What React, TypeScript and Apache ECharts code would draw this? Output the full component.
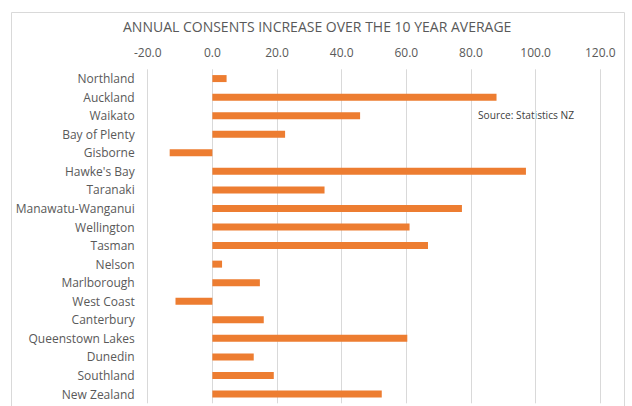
import React, { useEffect, useRef } from "react";
import * as echarts from "echarts";

const categories = [
  "Northland", "Auckland", "Waikato", "Bay of Plenty", "Gisborne", "Hawke's Bay",
  "Taranaki", "Manawatu-Wanganui", "Wellington", "Tasman", "Nelson", "Marlborough",
  "West Coast", "Canterbury", "Queenstown Lakes", "Dunedin", "Southland", "New Zealand",
];
const increaseValues = [
  4.4, 87.9, 45.7, 22.5, -13.2, 97.0,
  34.7, 77.2, 61.0, 66.7, 3.0, 14.7,
  -11.4, 15.9, 60.3, 12.8, 19.0, 52.4,
];
const axisMin = -20;
const axisMax = 120;
const axisStep = 20;
const titleText = "ANNUAL CONSENTS INCREASE OVER THE 10 YEAR AVERAGE";
const sourceText = "Source: Statistics NZ";

const FONT = "'Open Sans', sans-serif";

export default function App() {
  const ref = useRef<HTMLDivElement>(null);
  useEffect(() => {
    if (!ref.current) return;
    const chart = echarts.init(ref.current, null, { renderer: "svg" });
    chart.setOption({
      animation: false,
      backgroundColor: "#ffffff",
      textStyle: { fontFamily: FONT },
      title: {
        text: titleText,
        left: 118,
        top: 14.5,
        textStyle: { fontSize: 14, fontWeight: "normal", color: "#595959", fontFamily: FONT },
      },
      graphic: [
        {
          type: "rect",
          shape: { x: 11.5, y: 12.5, width: 613, height: 400 },
          style: { fill: "none", stroke: "#d9d9d9", lineWidth: 1 },
          silent: true,
          z: -1,
        },
        {
          type: "text",
          left: 478,
          top: 109.5,
          style: { text: sourceText, fontSize: 10.2, fill: "#404040", fontFamily: FONT },
        },
      ],
      grid: { left: 147.7, right: 31.7, top: 69.3, bottom: 2.7, containLabel: false },
      xAxis: {
        type: "value",
        position: "top",
        min: axisMin,
        max: axisMax,
        interval: axisStep,
        axisLine: { show: false },
        axisTick: { show: false },
        axisLabel: {
          margin: 11,
          fontSize: 12,
          color: "#595959",
          fontFamily: FONT,
          formatter: (v: number) => v.toFixed(1),
        },
        splitLine: { show: true, lineStyle: { color: "#d9d9d9", width: 1 } },
      },
      yAxis: {
        type: "category",
        data: categories,
        inverse: true,
        axisLine: { show: false },
        axisTick: { show: false },
        axisLabel: { margin: 13, fontSize: 12, color: "#595959", fontFamily: FONT },
      },
      series: [
        {
          type: "bar",
          data: increaseValues,
          barWidth: 7,
          itemStyle: { color: "#ED7D31" },
        },
      ],
    });
    return () => chart.dispose();
  }, []);
  return (
    <div
      ref={ref}
      style={{ position: "fixed", left: 0, top: 0, width: 632, height: 406 }}
    />
  );
}
